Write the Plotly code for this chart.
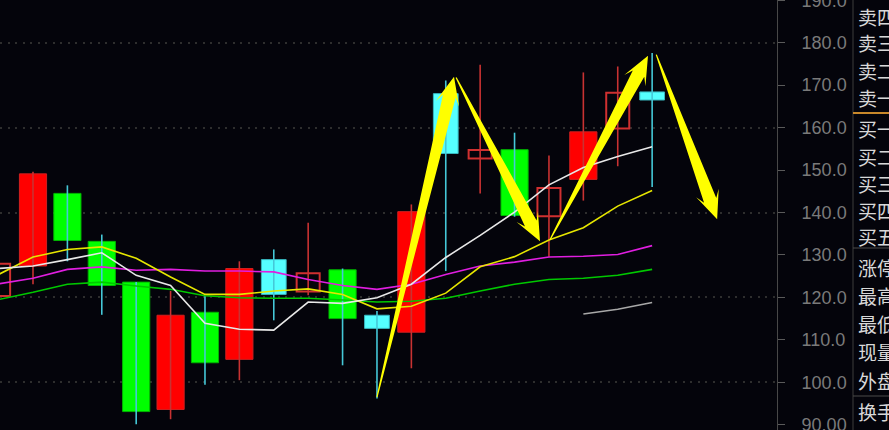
import math
import plotly.graph_objects as go

# ---------------- data ----------------
candle_index = list(range(20))
open_px  = [120.3, 127.4, 144.5, 133.2, 123.6,  93.6, 116.5, 105.4, 128.9, 121.4,
            126.5, 115.8, 111.8, 168.0, 152.7, 154.8, 139.1, 147.8, 159.8, 168.4]
close_px = [127.9, 149.1, 133.4, 122.8,  93.1, 115.8, 104.6, 126.8, 120.7, 125.7,
            115.0, 112.7, 140.2, 153.9, 154.7, 139.3, 145.8, 159.0, 168.2, 166.5]
high_px  = [129.0, 149.6, 146.4, 134.8, 123.6, 121.5, 120.3, 128.5, 131.3, 137.6,
            126.8, 116.8, 141.9, 171.1, 174.8, 158.8, 153.4, 173.0, 174.4, 177.6]
low_px   = [119.0, 123.1, 128.5, 115.9,  90.1,  91.3,  99.4, 100.5, 114.6, 120.5,
            104.0,  96.2, 103.3, 126.2, 144.5, 139.0, 129.6, 142.8, 150.9, 146.0]
candle_kind = ['hollow', 'red', 'green', 'green', 'green', 'red', 'green', 'red', 'cyan', 'hollow',
               'green', 'cyan', 'red', 'cyan', 'hollow', 'green', 'hollow', 'red', 'hollow', 'cyan']

ma_white   = [126.8, 127.4, 128.9, 130.5, 125.2, 122.8, 113.9, 112.5, 112.3, 118.9,
              118.6, 119.9, 123.1, 129.4, 134.6, 140.1, 146.5, 150.6, 153.2, 155.5]
ma_yellow  = [125.4, 129.5, 131.3, 131.9, 129.2, 124.8, 120.7, 120.7, 121.5, 122.0,
              120.7, 117.3, 117.9, 121.0, 127.2, 129.6, 133.5, 136.4, 141.5, 145.2]
ma_magenta = [123.2, 124.5, 126.6, 127.2, 126.4, 126.6, 126.2, 126.2, 126.0, 124.2,
              122.8, 121.9, 123.1, 125.4, 127.4, 128.3, 129.5, 129.7, 130.1, 132.2]
ma_green   = [119.5, 121.2, 123.1, 123.6, 122.7, 121.9, 120.4, 119.9, 119.8, 119.8,
              119.4, 118.9, 119.1, 119.8, 121.5, 123.1, 124.2, 124.5, 125.2, 126.6]
ma_gray    = [None] * 17 + [116.1, 117.2, 118.8]

ytick_values = [90, 100, 110, 120, 130, 140, 150, 160, 170, 180, 190]
ytick_labels = ['90.00', '100.0', '110.0', '120.0', '130.0', '140.0',
                '150.0', '160.0', '170.0', '180.0', '190.0']
grid_values = [100, 120, 140, 160, 180]

sidebar_labels = ['卖四', '卖三', '卖二', '卖一', '买一', '买二', '买三', '买四', '买五',
                  '涨停', '最高', '最低', '现量', '外盘', '换手']

arrow_start = [(11.0, 96.5), (13.3, 171.8), (16.03, 133.6), (19.12, 177.2)]
arrow_end   = [(13.24, 172.0), (15.74, 133.2), (18.88, 176.9), (20.89, 138.4)]

# ---------------- layout constants ----------------
W, H = 889, 430
PLOT_W = 777
X0, X1 = 0.0407, 22.63
Y0, Y1 = 88.76, 190.06
BG = '#04040b'

sx = PLOT_W / (X1 - X0)
sy = H / (Y1 - Y0)


def to_px(i, p):
    return (i - X0) * sx, (Y1 - p) * sy


def from_px(px, py):
    return px / sx + X0, Y1 - py / sy


def arrow_path(p0, p1, w0=0.6, w1=6.5, head_len=28, head_hw=12):
    x0, y0 = to_px(*p0)
    x1, y1 = to_px(*p1)
    dx, dy = x1 - x0, y1 - y0
    L = math.hypot(dx, dy)
    ux, uy = dx / L, dy / L
    nx, ny = -uy, ux
    bx, by = x1 - ux * head_len * 0.72, y1 - uy * head_len * 0.72
    hx, hy = x1 - ux * head_len, y1 - uy * head_len
    pts = [(x0 + nx * w0, y0 + ny * w0), (bx + nx * w1, by + ny * w1),
           (hx + nx * head_hw, hy + ny * head_hw), (x1, y1),
           (hx - nx * head_hw, hy - ny * head_hw), (bx - nx * w1, by - ny * w1),
           (x0 - nx * w0, y0 - ny * w0)]
    d = [from_px(*p) for p in pts]
    return 'M ' + ' L '.join(f'{a:.4f},{b:.4f}' for a, b in d) + ' Z'


fig = go.Figure()

# wicks
wick_style = {'red': '#c83232', 'hollow': '#c83232', 'green': '#45c8d8', 'cyan': '#45c8d8'}
for col in ['#c83232', '#45c8d8']:
    xs, ys = [], []
    for i in candle_index:
        if wick_style[candle_kind[i]] == col:
            xs += [i, i, None]
            ys += [low_px[i], high_px[i], None]
    fig.add_trace(go.Scatter(x=xs, y=ys, mode='lines', line=dict(color=col, width=1.6),
                             hoverinfo='skip'))

# bodies
body_style = {
    'red':    dict(fill='#ff0000', edge='#d02020', lw=1, width=0.79),
    'green':  dict(fill='#00ff00', edge='#00b400', lw=1, width=0.79),
    'cyan':   dict(fill='#55ffff', edge='#38b8c0', lw=1, width=0.72),
    'hollow': dict(fill=BG, edge='#d03030', lw=2, width=0.67),
}
for kind, st in body_style.items():
    sel = [i for i in candle_index if candle_kind[i] == kind]
    fig.add_trace(go.Bar(
        x=sel,
        y=[max(abs(close_px[i] - open_px[i]), 0.3) for i in sel],
        base=[min(open_px[i], close_px[i]) for i in sel],
        width=st['width'],
        marker=dict(color=st['fill'], line=dict(color=st['edge'], width=st['lw'])),
        hoverinfo='skip'))

# moving averages
for series, col in [(ma_green, '#00c800'), (ma_magenta, '#e01ee0'), (ma_yellow, '#e6e600'),
                    (ma_white, '#e8e8e8'), (ma_gray, '#a8a8a8')]:
    fig.add_trace(go.Scatter(x=candle_index, y=series, mode='lines',
                             line=dict(color=col, width=1.6), hoverinfo='skip'))

# gridline axis (overlay)
fig.add_trace(go.Scatter(x=[None], y=[None], yaxis='y2', showlegend=False))

shapes = []
for p0, p1 in zip(arrow_start, arrow_end):
    shapes.append(dict(type='path', xref='x', yref='y', path=arrow_path(p0, p1),
                       fillcolor='#ffff00', line=dict(width=0), layer='above'))

# sidebar panel
px2paper_x = lambda px: px / PLOT_W
py2paper_y = lambda py: 1 - py / H
shapes.append(dict(type='line', xref='paper', yref='paper', x0=px2paper_x(853), x1=px2paper_x(853),
                   y0=0, y1=1, line=dict(color='#3c3c3c', width=1)))
shapes.append(dict(type='line', xref='paper', yref='paper', x0=px2paper_x(853), x1=px2paper_x(889),
                   y0=py2paper_y(113), y1=py2paper_y(113), line=dict(color='#c8882a', width=2)))
for py in [248, 396]:
    shapes.append(dict(type='line', xref='paper', yref='paper', x0=px2paper_x(853), x1=px2paper_x(889),
                       y0=py2paper_y(py), y1=py2paper_y(py), line=dict(color='#4a4a4a', width=1)))

label_y = [16, 43, 70, 97, 128, 156, 183, 210, 236, 267, 295, 323, 351, 380, 411]
annotations = []
for txt, py in zip(sidebar_labels, label_y):
    annotations.append(dict(text=txt, xref='paper', yref='paper', x=px2paper_x(856), y=py2paper_y(py),
                            xanchor='left', yanchor='middle', showarrow=False,
                            font=dict(family='Noto Sans CJK SC', size=19, color='#d8d8d8')))

fig.update_layout(
    width=W, height=H, margin=dict(l=0, r=W - PLOT_W, t=0, b=0, autoexpand=False),
    paper_bgcolor=BG, plot_bgcolor=BG, showlegend=False, barmode='overlay',
    xaxis=dict(range=[X0, X1], visible=False, fixedrange=True, automargin=False),
    yaxis=dict(range=[Y0, Y1], side='right', tickvals=ytick_values, ticktext=ytick_labels,
               showgrid=False, zeroline=False, showline=True, linecolor='#484848', linewidth=1,
               ticks='outside', ticklen=7, tickcolor='#5a5a5a', ticklabelstandoff=13,
               ticklabeloverflow='allow', automargin=False,
               tickfont=dict(family='Liberation Sans', size=18, color='#7a7a7a'), fixedrange=True),
    yaxis2=dict(range=[Y0, Y1], overlaying='y', side='right', tickvals=grid_values,
                showticklabels=False, showgrid=True, gridcolor='#2e2e2e', gridwidth=2,
                griddash='2px,5.5px', zeroline=False, showline=False, ticks='', fixedrange=True,
                automargin=False),
    shapes=shapes, annotations=annotations,
)

fig.write_html('out.html', config={'displayModeBar': False},
               post_script="document.body.style.margin='0';document.body.style.background='%s';" % BG)
